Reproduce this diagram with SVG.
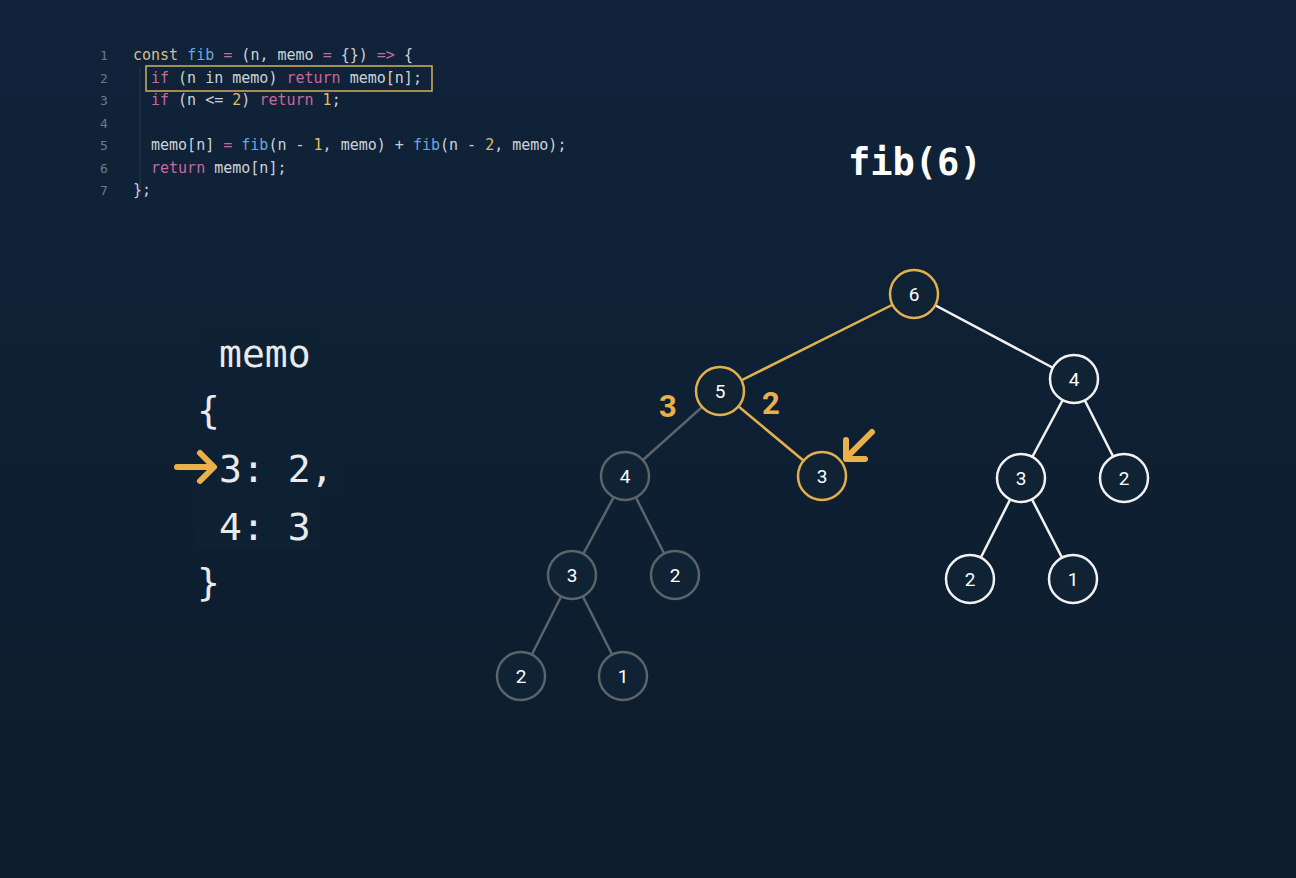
<svg xmlns="http://www.w3.org/2000/svg" width="1296" height="878" viewBox="0 0 1296 878">
<defs>
<linearGradient id="bg" x1="0" y1="0" x2="0" y2="1">
<stop offset="0" stop-color="#10233a"/>
<stop offset="1" stop-color="#0c1c2b"/>
</linearGradient>
<style>
.code{font-family:"DejaVu Sans Mono","Liberation Mono",monospace;font-size:15px;fill:#cdd2d7}
.ln{font-family:"DejaVu Sans Mono","Liberation Mono",monospace;font-size:13px;fill:#6d7b89}
.kw{fill:#c56a9e}
.fn{fill:#6aa6d8}
.cst{fill:#d6bf8c}
.num{fill:#e1b96a}
.memo{font-family:"DejaVu Sans Mono","Liberation Mono",monospace;font-size:38px;fill:#e8eaec}
.title{font-family:"DejaVu Sans Mono","Liberation Mono",monospace;font-size:37px;font-weight:bold;fill:#ffffff}
.nt{font-family:"Roboto","Liberation Sans",sans-serif;font-size:19px;fill:#ffffff;text-anchor:middle}
.lbl{font-family:"Roboto","Liberation Sans",sans-serif;font-size:31px;font-weight:bold;fill:#e9b04c;text-anchor:middle}
.c{fill:#0f2335;stroke-width:2.5}
.gold{stroke:#e2b04f}
.white{stroke:#f2f2f2}
.gray{stroke:#5b636b}
.e{stroke-width:2.5;fill:none}
</style>
</defs>
<rect width="1296" height="878" fill="url(#bg)"/>

<g id="code">
<line x1="140" y1="68" x2="140" y2="196" stroke="#2a3a4a" stroke-width="1"/>
<text class="ln" x="100" y="60">1</text>
<text class="ln" x="100" y="83">2</text>
<text class="ln" x="100" y="105">3</text>
<text class="ln" x="100" y="128">4</text>
<text class="ln" x="100" y="150">5</text>
<text class="ln" x="100" y="173">6</text>
<text class="ln" x="100" y="195">7</text>
<text class="code" x="133" y="60" xml:space="preserve"><tspan class="cst">const</tspan> <tspan class="fn">fib</tspan> <tspan class="kw">=</tspan> (n, memo <tspan class="kw">=</tspan> {}) <tspan class="kw">=&gt;</tspan> {</text>
<rect x="146" y="66" width="286" height="25" fill="none" stroke="#c8a85c" stroke-width="1.6"/>
<text class="code" x="151" y="83" xml:space="preserve"><tspan class="kw">if</tspan> (n in memo) <tspan class="kw">return</tspan> memo[n];</text>
<text class="code" x="151" y="105" xml:space="preserve"><tspan class="kw">if</tspan> (n &lt;= <tspan class="num">2</tspan>) <tspan class="kw">return</tspan> <tspan class="num">1</tspan>;</text>
<text class="code" x="151" y="150" xml:space="preserve">memo[n] <tspan class="kw">=</tspan> <tspan class="fn">fib</tspan>(n - <tspan class="num">1</tspan>, memo) + <tspan class="fn">fib</tspan>(n - <tspan class="num">2</tspan>, memo);</text>
<text class="code" x="151" y="173" xml:space="preserve"><tspan class="kw">return</tspan> memo[n];</text>
<text class="code" x="133" y="195">};</text>
</g>

<g id="title">
<text class="title" x="848" y="175">fib(6)</text>
</g>

<g id="memo">
<rect x="200" y="332" width="120" height="46" fill="#0e2132"/>
<rect x="196" y="437" width="146" height="56" fill="#0e2132"/>
<rect x="196" y="495" width="124" height="54" fill="#0e2132"/>
<text class="memo" x="219" y="367">memo</text>
<text class="memo" x="197" y="423">{</text>
<text class="memo" x="219" y="482" xml:space="preserve">3: 2,</text>
<text class="memo" x="219" y="540" xml:space="preserve">4: 3</text>
<text class="memo" x="197" y="595">}</text>
<g stroke="#eab04a" stroke-width="6" stroke-linecap="round" stroke-linejoin="round" fill="none">
<line x1="177" y1="467" x2="212" y2="467"/>
<polyline points="200,453 214,467 200,481"/>
</g>
</g>

<g id="connectors" class="e">
<line class="e gold" x1="914" y1="294" x2="720" y2="391"/>
<line class="e white" x1="914" y1="294" x2="1074" y2="379"/>
<line class="e gray" x1="720" y1="391" x2="625" y2="476"/>
<line class="e gold" x1="720" y1="391" x2="822" y2="476"/>
<line class="e gray" x1="625" y1="476" x2="572" y2="575"/>
<line class="e gray" x1="625" y1="476" x2="675" y2="575"/>
<line class="e gray" x1="572" y1="575" x2="521" y2="676"/>
<line class="e gray" x1="572" y1="575" x2="623" y2="676"/>
<line class="e white" x1="1074" y1="379" x2="1021" y2="478"/>
<line class="e white" x1="1074" y1="379" x2="1124" y2="478"/>
<line class="e white" x1="1021" y1="478" x2="970" y2="579"/>
<line class="e white" x1="1021" y1="478" x2="1073" y2="579"/>
</g>

<g id="n6"><circle class="c gold" cx="914" cy="294" r="24"/><text class="nt" x="914" y="301">6</text></g>
<g id="n5"><circle class="c gold" cx="720" cy="391" r="24"/><text class="nt" x="720" y="398">5</text></g>
<g id="n3a"><circle class="c gold" cx="822" cy="476" r="24"/><text class="nt" x="822" y="483">3</text></g>
<g id="n4a"><circle class="c gray" cx="625" cy="476" r="24"/><text class="nt" x="625" y="483">4</text></g>
<g id="n3b"><circle class="c gray" cx="572" cy="575" r="24"/><text class="nt" x="572" y="582">3</text></g>
<g id="n2a"><circle class="c gray" cx="675" cy="575" r="24"/><text class="nt" x="675" y="582">2</text></g>
<g id="n2b"><circle class="c gray" cx="521" cy="676" r="24"/><text class="nt" x="521" y="683">2</text></g>
<g id="n1a"><circle class="c gray" cx="623" cy="676" r="24"/><text class="nt" x="623" y="683">1</text></g>
<g id="n4b"><circle class="c white" cx="1074" cy="379" r="24"/><text class="nt" x="1074" y="386">4</text></g>
<g id="n3c"><circle class="c white" cx="1021" cy="478" r="24"/><text class="nt" x="1021" y="485">3</text></g>
<g id="n2c"><circle class="c white" cx="1124" cy="478" r="24"/><text class="nt" x="1124" y="485">2</text></g>
<g id="n2d"><circle class="c white" cx="970" cy="579" r="24"/><text class="nt" x="970" y="586">2</text></g>
<g id="n1b"><circle class="c white" cx="1073" cy="579" r="24"/><text class="nt" x="1073" y="586">1</text></g>

<g id="labels">
<text class="lbl" x="668" y="417">3</text>
<text class="lbl" x="771" y="414">2</text>
<g stroke="#eab04a" stroke-width="6" stroke-linecap="round" stroke-linejoin="round" fill="none">
<line x1="872" y1="432" x2="847" y2="457"/>
<polyline points="846,440 846,459 865,459"/>
</g>
</g>
</svg>
